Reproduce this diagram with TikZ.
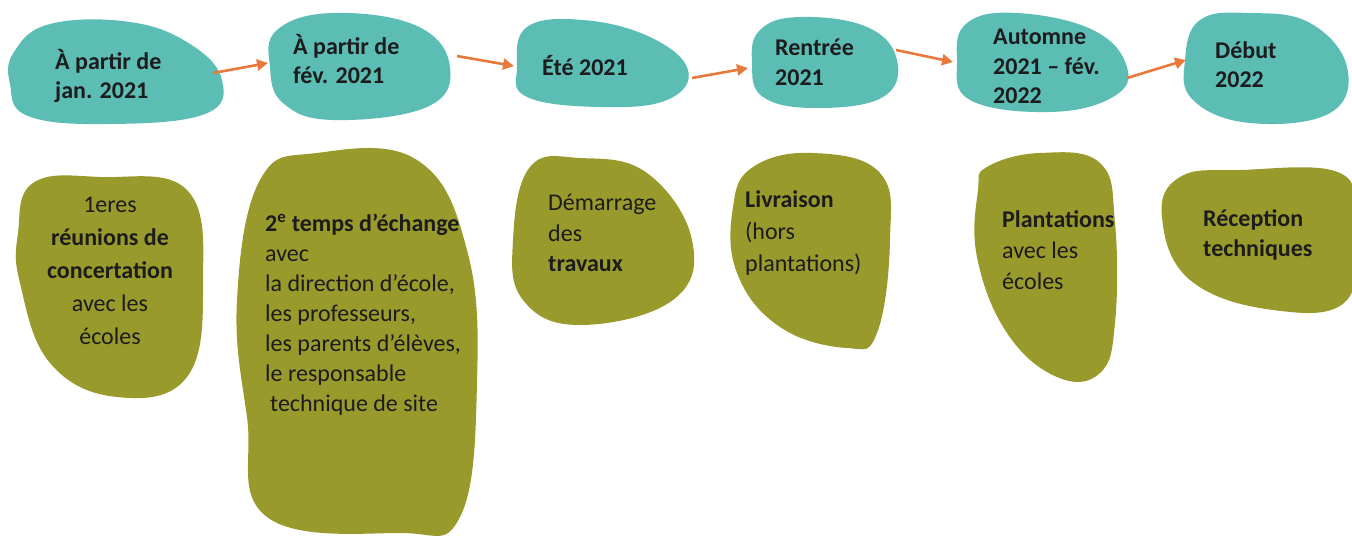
\documentclass[tikz,border=0pt]{standalone}
\usepackage{fontspec}
\setmainfont{Carlito}
\usetikzlibrary{arrows.meta}

\definecolor{lagoon}{HTML}{5CBDB5}
\definecolor{moss}{HTML}{999A2C}
\definecolor{carrot}{HTML}{E8793B}
\definecolor{ink}{HTML}{1C1C1C}

\begin{document}
\begin{tikzpicture}[x=1pt,y=-1pt,
  date blob/.style={fill=lagoon},
  task blob/.style={fill=moss},
  txt/.style={anchor=north west,inner sep=0pt,align=left,text=ink,
    font=\fontsize{24}{29.5}\selectfont},
  timeline arrow/.style={-{Triangle[length=11pt,width=11pt]},line width=2.6pt,draw=carrot}]

  \useasboundingbox (0,0) rectangle (1352,536);

  % dates
  \fill[date blob] plot[smooth cycle,tension=0.7] coordinates
    {(14,52) (50,24) (130,22) (190,44) (222,80) (205,114) (110,124) (28,116) (10,84)};
  \fill[date blob] plot[smooth cycle,tension=0.7] coordinates
    {(277,30) (333,13) (417,26) (450,67) (427,107) (333,120) (283,103) (270,67)};
  \fill[date blob] plot[smooth cycle,tension=0.7] coordinates
    {(527,27) (583,20) (650,37) (688,70) (667,100) (600,107) (527,97) (517,67)};
  \fill[date blob] plot[smooth cycle,tension=0.7] coordinates
    {(760,30) (800,17) (867,27) (897,60) (883,97) (817,108) (763,97) (752,63)};
  \fill[date blob] plot[smooth cycle,tension=0.7] coordinates
    {(967,23) (1017,13) (1093,30) (1127,67) (1113,97) (1050,112) (970,100) (957,60)};
  \fill[date blob] plot[smooth cycle,tension=0.7] coordinates
    {(1200,20) (1250,13) (1310,23) (1347,67) (1330,113) (1250,123) (1193,100) (1185,60)};

  \node[txt,font=\bfseries\fontsize{24}{29.5}\selectfont] (jan) at (55,49) {À partir de\\jan. 2021};
  \node[txt,font=\bfseries\fontsize{24}{29.5}\selectfont] (fev) at (293,34) {À partir de\\fév. 2021};
  \node[txt,font=\bfseries\fontsize{24}{29.5}\selectfont] (ete) at (542,55) {Été 2021};
  \node[txt,font=\bfseries\fontsize{24}{29.5}\selectfont] (rentree) at (775,39) {Rentrée\\2021};
  \node[txt,font=\bfseries\fontsize{24}{29.5}\selectfont] (automne) at (993,29) {Automne\\2021 – fév.\\2022};
  \node[txt,font=\bfseries\fontsize{24}{29.5}\selectfont] (debut) at (1215,41) {Début\\2022};

  \coordinate (jan out) at (213,73);   \coordinate (fev in) at (268,63);
  \coordinate (fev out) at (457,56);   \coordinate (ete in) at (514,66);
  \coordinate (ete out) at (692,78);   \coordinate (rentree in) at (748,68);
  \coordinate (rentree out) at (896,50); \coordinate (automne in) at (953,62);
  \coordinate (automne out) at (1127,78); \coordinate (debut in) at (1186,60);

  \draw[timeline arrow] (jan out) -- (fev in);
  \draw[timeline arrow] (fev out) -- (ete in);
  \draw[timeline arrow] (ete out) -- (rentree in);
  \draw[timeline arrow] (rentree out) -- (automne in);
  \draw[timeline arrow] (automne out) -- (debut in);

  % tasks
  \fill[task blob] plot[smooth cycle,tension=0.7] coordinates
    {(33,183) (100,177) (187,190) (203,283) (187,377) (117,397) (50,363) (20,283) (18,233)};
  \fill[task blob] plot[smooth cycle,tension=0.7] coordinates
    {(260,180) (317,153) (417,160) (467,250) (477,383) (460,517) (400,533) (267,517) (247,417) (237,300)};
  \fill[task blob] plot[smooth cycle,tension=0.7] coordinates
    {(530,167) (580,158) (647,173) (692,240) (673,300) (580,325) (523,300) (513,240)};
  \fill[task blob] plot[smooth cycle,tension=0.7] coordinates
    {(753,167) (813,153) (880,173) (890,240) (877,333) (847,348) (780,327) (737,273) (733,207)};
  \fill[task blob] plot[smooth cycle,tension=0.7] coordinates
    {(987,167) (1040,153) (1100,163) (1115,223) (1115,323) (1100,373) (1057,377) (1007,333) (977,257) (978,190)};
  \fill[task blob] plot[smooth cycle,tension=0.7] coordinates
    {(1180,177) (1240,170) (1340,173) (1352,223) (1347,300) (1273,310) (1190,280) (1162,217)};

  \node[txt,anchor=north,align=center,font=\fontsize{24}{33}\selectfont] (reunions) at (110,197)
    {1eres\\\textbf{réunions de}\\\textbf{concertation}\\avec les\\écoles};
  \node[txt,font=\fontsize{24}{30}\selectfont] (echange) at (265,214)
    {\textbf{2\textsuperscript{e} temps d’échange}\\avec\\la direction d’école,\\les professeurs,\\les parents d’élèves,\\le responsable\\\hspace*{5pt}technique de site};
  \node[txt,font=\fontsize{24}{30.5}\selectfont] (travaux) at (548,194)
    {Démarrage\\des\\\textbf{travaux}};
  \node[txt,font=\fontsize{24}{32}\selectfont] (livraison) at (745,190)
    {\textbf{Livraison}\\(hors\\plantations)};
  \node[txt,font=\fontsize{24}{31}\selectfont] (plantations) at (1002,210)
    {\textbf{Plantations}\\avec les\\écoles};
  \node[txt,font=\bfseries\fontsize{24}{30}\selectfont] (reception) at (1203,209)
    {Réception\\techniques};

\end{tikzpicture}
\end{document}
